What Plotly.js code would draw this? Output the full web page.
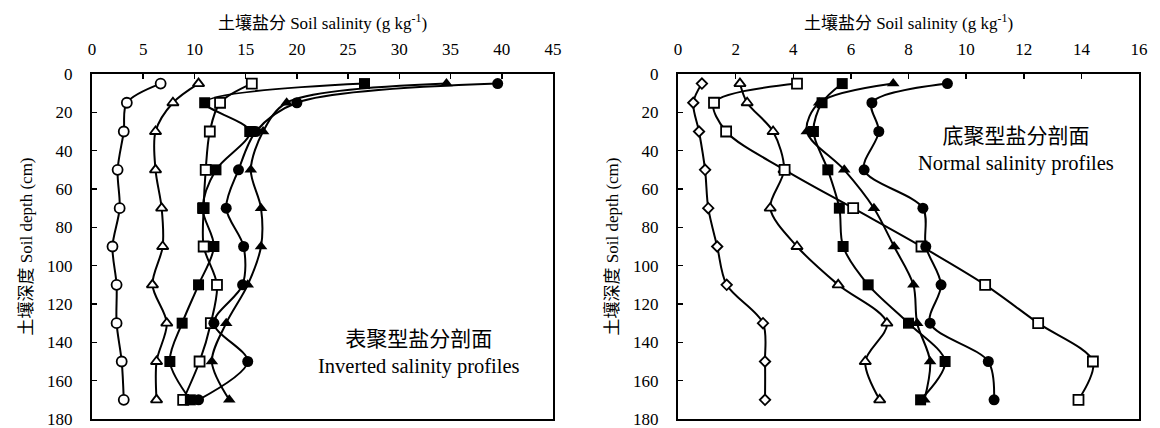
<!DOCTYPE html>
<html>
<head>
<meta charset="utf-8">
<script src="https://cdn.plot.ly/plotly-3.0.1.min.js"></script>
<style>html,body{margin:0;padding:0;background:#fff;}#chart{width:1160px;height:428px;}</style>
</head>
<body>
<div id="chart"></div>
<script>
// Soil depth (cm)
const depth = [5, 15, 30, 50, 70, 90, 110, 130, 150, 170];

// Left panel: inverted salinity profiles (g/kg)
const L_openCircle     = [6.7, 3.4, 3.1, 2.5, 2.7, 2.0, 2.4, 2.4, 2.9, 3.1];
const L_openTriangle   = [10.4, 7.9, 6.2, 6.2, 6.8, 6.9, 5.9, 7.3, 6.3, 6.3];
const L_openSquare     = [15.6, 12.5, 11.5, 11.1, 10.9, 10.9, 12.2, 11.6, 10.5, 8.9];
const L_filledSquare   = [26.6, 11.0, 15.4, 12.1, 10.8, 11.9, 10.4, 8.8, 7.6, 9.6];
const L_filledTriangle = [34.6, 19.0, 16.7, 15.5, 16.5, 16.5, 15.2, 13.1, 11.7, 13.4];
const L_filledCircle   = [39.6, 20.0, 16.0, 14.3, 13.1, 14.8, 14.7, 11.9, 15.2, 10.4];

// Right panel: normal salinity profiles (g/kg)
const R_openDiamond    = [0.83, 0.53, 0.73, 0.94, 1.05, 1.36, 1.69, 2.95, 3.02, 3.02];
const R_openTriangle   = [2.15, 2.4, 3.3, 3.68, 3.2, 4.13, 5.56, 7.25, 6.5, 7.0];
const R_openSquare     = [4.13, 1.25, 1.67, 3.7, 6.08, 8.45, 10.66, 12.5, 14.4, 13.9];
const R_filledSquare   = [5.7, 5.0, 4.7, 5.2, 5.6, 5.73, 6.6, 8.0, 9.27, 8.42];
const R_filledTriangle = [7.47, 4.9, 4.47, 5.77, 6.8, 7.5, 8.17, 8.3, 8.75, 8.55];
const R_filledCircle   = [9.35, 6.73, 6.97, 6.46, 8.5, 8.6, 9.13, 8.75, 10.77, 10.97];

// Axis ticks
const leftXTicks  = [0, 5, 10, 15, 20, 25, 30, 35, 40, 45];
const rightXTicks = [0, 2, 4, 6, 8, 10, 12, 14, 16];
const depthTicks  = [0, 20, 40, 60, 80, 100, 120, 140, 160, 180];

const xTitle = '土壤盐分 Soil salinity (g kg<sup>-1</sup>)';
const yTitle = '土壤深度 Soil depth (cm)';
const leftLabel  = '<span style="font-size:21px">表聚型盐分剖面</span><br>Inverted salinity profiles';
const rightLabel = '<span style="font-size:21px">底聚型盐分剖面</span><br>Normal salinity profiles';

const FONT = '"Liberation Serif", "Times New Roman", "Noto Sans CJK SC", serif';

function tr(x, xa, ya, sym, size) {
  const open = sym.indexOf('open') >= 0;
  return {
    x: x, y: depth, xaxis: xa, yaxis: ya, type: 'scatter', mode: 'lines+markers',
    line: {color: '#000', width: 2, shape: 'spline', smoothing: 0.9},
    marker: {symbol: sym.replace('-open', ''), size: size, color: open ? '#fff' : '#000',
             line: {color: '#000', width: open ? 1.8 : 0}},
    showlegend: false, hoverinfo: 'x+y'
  };
}

const data = [
  tr(L_openCircle, 'x', 'y', 'circle-open', 10),
  tr(L_openTriangle, 'x', 'y', 'triangle-up-open', 10),
  tr(L_openSquare, 'x', 'y', 'square-open', 10),
  tr(L_filledSquare, 'x', 'y', 'square', 11),
  tr(L_filledTriangle, 'x', 'y', 'triangle-up', 11),
  tr(L_filledCircle, 'x', 'y', 'circle', 11),
  tr(R_openDiamond, 'x2', 'y2', 'diamond-open', 8),
  tr(R_openTriangle, 'x2', 'y2', 'triangle-up-open', 10),
  tr(R_openSquare, 'x2', 'y2', 'square-open', 10),
  tr(R_filledSquare, 'x2', 'y2', 'square', 11),
  tr(R_filledTriangle, 'x2', 'y2', 'triangle-up', 11),
  tr(R_filledCircle, 'x2', 'y2', 'circle', 11)
];

const W = 1160, H = 428;
function xAxis(dom, ticks, anchor) {
  return {
    domain: dom, range: [ticks[0], ticks[ticks.length - 1]], side: 'top', anchor: anchor,
    tickvals: ticks, ticktext: ticks.map(String), ticks: 'inside', ticklen: 5, tickwidth: 1.5,
    tickcolor: '#000', showline: true, linecolor: '#000', linewidth: 2, mirror: true,
    showgrid: false, zeroline: false, tickfont: {family: FONT, size: 17, color: '#000'},
    ticklabelstandoff: 10, ticklabeloverflow: 'allow',
    title: {text: xTitle, font: {family: FONT, size: 17, color: '#000'}, standoff: 6}
  };
}
function yAxis(dom, anchor) {
  return {
    domain: dom, range: [180, 0], anchor: anchor,
    tickvals: depthTicks, ticktext: depthTicks.map(String), ticks: 'inside', ticklen: 5, tickwidth: 1.5,
    tickcolor: '#000', showline: true, linecolor: '#000', linewidth: 2, mirror: true,
    showgrid: false, zeroline: false, tickfont: {family: FONT, size: 17, color: '#000'},
    ticklabelstandoff: 14, ticklabeloverflow: 'allow',
    title: {text: yTitle, font: {family: FONT, size: 17, color: '#000'}, standoff: 10}
  };
}

const yDom = [1 - 419 / H, 1 - 74 / H];
const layout = {
  width: W, height: H, margin: {l: 0, r: 0, t: 0, b: 0},
  paper_bgcolor: '#fff', plot_bgcolor: '#fff',
  font: {family: FONT, color: '#000'},
  xaxis: xAxis([92 / W, 553 / W], leftXTicks, 'y'),
  yaxis: yAxis(yDom, 'x'),
  xaxis2: xAxis([678 / W, 1139 / W], rightXTicks, 'y2'),
  yaxis2: yAxis(yDom, 'x2'),
  annotations: [
    {xref: 'x', yref: 'y', x: 31.9, y: 145.5, text: leftLabel, showarrow: false,
     font: {family: FONT, size: 20.5, color: '#000'}, align: 'center'},
    {xref: 'x2', yref: 'y2', x: 11.74, y: 39.2, text: rightLabel, showarrow: false,
     font: {family: FONT, size: 20.5, color: '#000'}, align: 'center'}
  ]
};

Plotly.newPlot('chart', data, layout, {displayModeBar: false, staticPlot: true});
</script>
</body>
</html>
